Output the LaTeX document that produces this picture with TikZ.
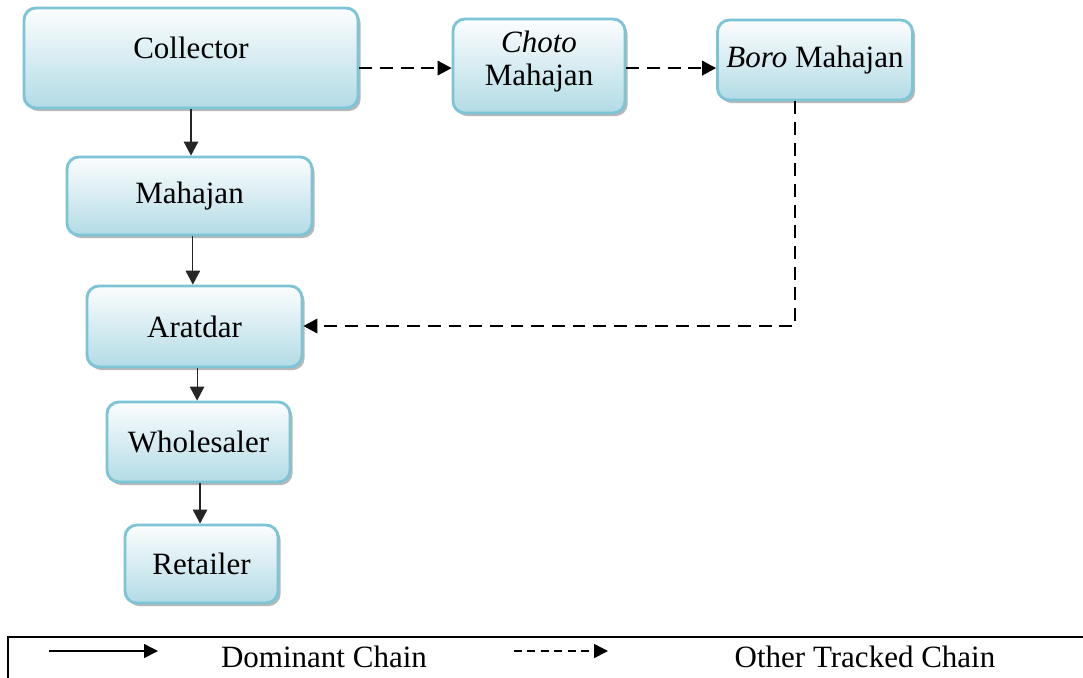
\documentclass[tikz,border=0pt]{standalone}
\usepackage{fontspec}
\setmainfont{Liberation Serif}
\usepackage{tikz}
\usetikzlibrary{arrows.meta,positioning,shadows}
\definecolor{boxline}{RGB}{125, 196, 214}
\definecolor{boxtop}{RGB}{252, 253, 254}
\definecolor{boxbottom}{RGB}{178, 219, 229}
\tikzset{
 chainbox/.style 2 args={
 rectangle,
 rounded corners=4.6pt,
 draw=boxline,
 line width=1.1pt,
 top color=boxtop,
 bottom color=boxbottom,
 drop shadow={shadow xshift=1pt, shadow yshift=-1.2pt, fill=gray!70, opacity=0.8},
 align=center,
 inner sep=0pt,
 minimum width=#1*0.387pt,
 minimum height=#2*0.387pt,
 font=\fontsize{12}{12.5}\selectfont
 },
 legendtext/.style={font=\fontsize{12}{12.5}\selectfont, inner sep=0pt},
 mainarrow/.style={-{Triangle[length=5.4pt, width=5.6pt]}, line width=0.45pt, draw=black!85},
 otherarrow/.style={-{Triangle[length=5.4pt, width=5.6pt]}, line width=0.8pt, dash pattern=on 5pt off 3pt}
}

\begin{document}
\begin{tikzpicture}[x=0.387pt, y=-0.387pt]
	\useasboundingbox (0,0) rectangle (1083,677);

	\node[chainbox={334}{100}, text depth=7.7pt] (collector) at (191,58) {Collector};
	\node[chainbox={172}{94}, text depth=6pt] (choto) at (539,66) {\textit{Choto}\\Mahajan};
	\node[chainbox={195}{80}] (boro) at (815,60) {\textit{Boro} Mahajan};

	\node[chainbox={245}{78}] (mahajan) at (189.5,196) {Mahajan};
	\node[chainbox={215}{81}] (aratdar) at (194.5,326.5) {Aratdar};
	\node[chainbox={183}{80}] (wholesaler) at (198.5,442) {Wholesaler};
	\node[chainbox={153}{78}] (retailer) at (201.5,564) {Retailer};

	\draw[mainarrow] (collector) -- (collector |- mahajan.north);
	\draw[mainarrow] ([xshift=1.3pt]mahajan.south) -- ([xshift=1.3pt]mahajan.south |- aratdar.north);
	\draw[mainarrow] ([xshift=1pt]aratdar.south) -- ([xshift=1pt]aratdar.south |- wholesaler.north);
	\draw[mainarrow] ([xshift=0.6pt]wholesaler.south) -- ([xshift=0.6pt]wholesaler.south |- retailer.north);

	\coordinate (bend) at (795,326);
	\draw[otherarrow] ([yshift=-0.8pt]choto.west -| collector.east) -- ([yshift=-0.8pt]choto.west);
	\draw[otherarrow] ([yshift=-0.8pt]choto.east) -- ([yshift=-0.8pt]choto.east -| boro.west);
	\draw[otherarrow] (boro.south -| bend) -- (bend) -- (bend -| aratdar.east);

	\draw[line width=0.9pt] (1090,637) -- (8,637) -- (8,690);
	\coordinate (solidA) at (49,651);
	\coordinate (solidB) at (158,651);
	\coordinate (dashA) at (514,651);
	\coordinate (dashB) at (608,651);
	\draw[-{Triangle[length=5.4pt, width=5.4pt]}, line width=0.6pt] (solidA) -- (solidB);
	\draw[-{Triangle[length=5.4pt, width=5.4pt]}, line width=0.6pt, dash pattern=on 3pt off 2.2pt] (dashA) -- (dashB);
	\node[legendtext] (dominant) at (324,657) {Dominant Chain};
	\node[legendtext] (othertracked) at (865,657) {Other Tracked Chain};
\end{tikzpicture}
\end{document}
